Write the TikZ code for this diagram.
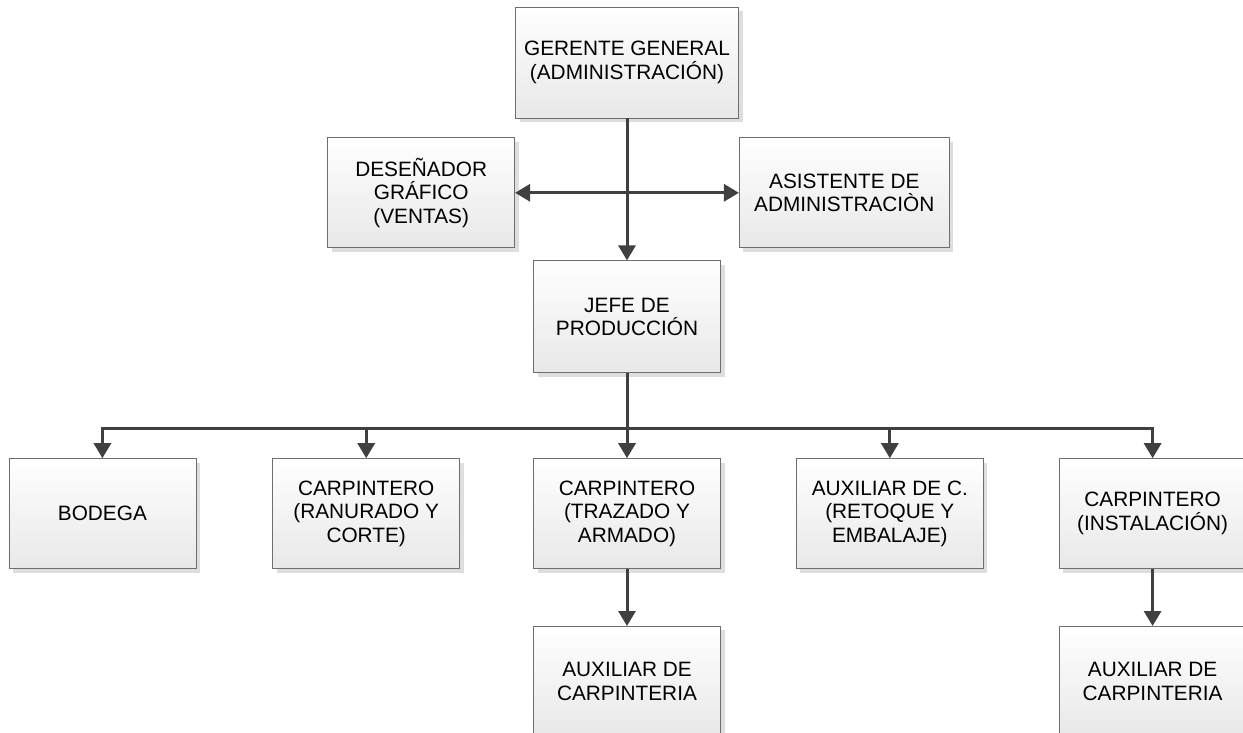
\documentclass[tikz,border=0pt]{standalone}
\usepackage{fontspec}
\setmainfont{Liberation Sans}
\usepackage{xcolor}
\usepackage{tikz}
\usetikzlibrary{positioning, arrows.meta, shadows}
\definecolor{linea}{HTML}{404040}
\definecolor{borde}{HTML}{6E6E6E}
\tikzstyle{cargo} = [rectangle, minimum width=187pt, minimum height=110pt, align=center, draw=borde, line width=0.8pt, top color=white, bottom color=black!9, drop shadow={shadow xshift=4pt, shadow yshift=-4pt, fill=black!13, opacity=1}, font=\fontsize{20.8}{23.5}\selectfont, inner sep=2pt]
\tikzstyle{arrow} = [line width=3pt, draw=linea, >={Triangle[width=17pt,length=15pt]}, ->]

\begin{document}
\begin{tikzpicture}
    \useasboundingbox (0,0) rectangle (1243pt,-732pt);
    \node (ger) [cargo, minimum width=223pt, minimum height=111pt] at (627pt,-62.5pt) {GERENTE GENERAL\\(ADMINISTRACIÓN)};
    \node (des) [cargo, below left=19pt and 0pt of ger.south west] {DESEÑADOR\\GRÁFICO\\(VENTAS)};
    \node (asi) [cargo, minimum width=210pt, below right=19pt and 0pt of ger.south east] {ASISTENTE DE\\ADMINISTRACIÒN};
    \node (jefe) [cargo, minimum height=112pt, below=142pt of ger] {JEFE DE\\PRODUCCIÓN};
    \node (trz) [cargo, below=85pt of jefe] {CARPINTERO\\(TRAZADO Y\\ARMADO)};
    \node (rnr) [cargo, left=73pt of trz] {CARPINTERO\\(RANURADO Y\\CORTE)};
    \node (bod) [cargo, left=76pt of rnr] {BODEGA};
    \node (rtq) [cargo, right=75pt of trz] {AUXILIAR DE C.\\(RETOQUE Y\\EMBALAJE)};
    \node (ins) [cargo, right=75pt of rtq] {CARPINTERO\\(INSTALACIÓN)};
    \node (auxa) [cargo, below=57pt of trz] {AUXILIAR DE\\CARPINTERIA};
    \node (auxb) [cargo, below=57pt of ins] {AUXILIAR DE\\CARPINTERIA};
    \coordinate [below=55pt of jefe.south] (bus);
    \draw [arrow] (ger) -- (jefe);
    \draw [arrow, <->] (des) -- (asi);
    \draw [arrow] (bus) -| (bod);
    \draw [arrow] (bus) -| (rnr);
    \draw [arrow] (jefe) -- (trz);
    \draw [arrow] (bus) -| (rtq);
    \draw [arrow] (bus) -| (ins);
    \draw [arrow] (trz) -- (auxa);
    \draw [arrow] (ins) -- (auxb);
\end{tikzpicture}
\end{document}
